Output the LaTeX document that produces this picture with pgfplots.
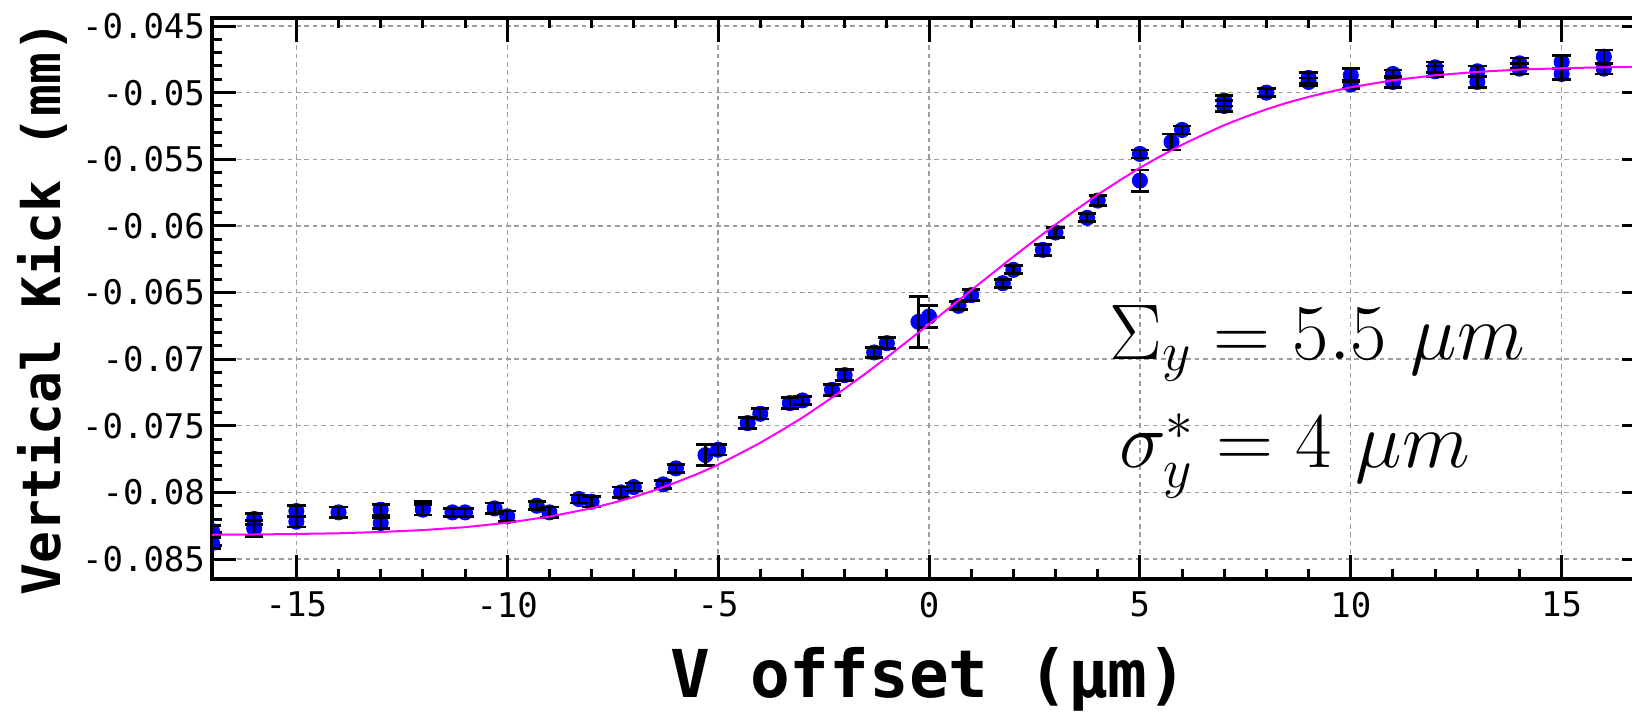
\RequirePackage{fix-cm}
\documentclass[border=0pt]{standalone}
\usepackage{fontspec}
\usepackage{pgfplots}
\usepackage{pgfplotstable}
\pgfplotsset{compat=1.18}
\newfontfamily\monofont{DejaVu Sans Mono}
\definecolor{fitmag}{RGB}{255,0,255}
\definecolor{ptblue}{RGB}{0,0,255}

\pgfplotstableread{
x y e
-17 -0.0829 0.0004
-17 -0.0838 0.0004
-16 -0.0820 0.0004
-16 -0.0827 0.0006
-15 -0.0814 0.0004
-15 -0.0822 0.0004
-14 -0.0815 0.0004
-13 -0.0813 0.0004
-13 -0.0823 0.0004
-12 -0.0812 0.0005
-12 -0.0813 0.0004
-11.3 -0.0815 0.0003
-11 -0.0815 0.0003
-10.3 -0.0812 0.0004
-10 -0.0818 0.0004
-9.3 -0.0810 0.0003
-9 -0.0815 0.0004
-8.3 -0.0805 0.0003
-8 -0.0807 0.0004
-7.3 -0.0800 0.0004
-7 -0.0796 0.0003
-6.3 -0.0794 0.0003
-6 -0.0782 0.0003
-5.3 -0.0772 0.0008
-5 -0.0768 0.0004
-4.3 -0.0748 0.0004
-4 -0.0741 0.0004
-3.3 -0.0733 0.0004
-3 -0.0731 0.0003
-2.3 -0.0723 0.0004
-2 -0.0712 0.0004
-1.3 -0.0695 0.0004
-1 -0.0688 0.0004
-0.25 -0.0672 0.0019
0 -0.0668 0.0008
0.7 -0.0660 0.0003
1 -0.0652 0.0004
1.75 -0.0643 0.0003
2 -0.0633 0.0003
2.7 -0.0618 0.0004
3 -0.0605 0.0004
3.75 -0.0594 0.0003
4 -0.0581 0.0004
5 -0.0546 0.0003
5 -0.0566 0.0008
5.75 -0.0537 0.0006
6 -0.0528 0.0003
7 -0.0506 0.0004
7 -0.0510 0.0004
8 -0.0500 0.0003
9 -0.0489 0.0004
9 -0.0492 0.0003
10 -0.0487 0.0005
10 -0.0494 0.0003
11 -0.0486 0.0003
11 -0.0492 0.0004
12 -0.0481 0.0004
12 -0.0484 0.0004
13 -0.0484 0.0004
13 -0.0492 0.0004
14 -0.0478 0.0004
14 -0.0482 0.0004
15 -0.0477 0.0005
15 -0.0486 0.0004
16 -0.0473 0.0005
16 -0.0482 0.0004
}\datatab

\pgfplotstableread{
x y
-17 -0.08318
-16 -0.08316
-15 -0.08312
-14 -0.08307
-13 -0.08297
-12 -0.08283
-11 -0.08261
-10 -0.08228
-9 -0.08182
-8 -0.08119
-7.5 -0.08079
-7 -0.08035
-6.5 -0.07983
-6 -0.07925
-5.5 -0.07863
-5 -0.07792
-4.5 -0.07711
-4 -0.07628
-3.5 -0.07535
-3 -0.07439
-2.5 -0.07332
-2 -0.07222
-1.5 -0.07107
-1 -0.06987
-0.5 -0.06863
0 -0.06738
0.5 -0.06611
1 -0.06483
1.5 -0.06357
2 -0.06231
2.5 -0.06109
3 -0.05990
3.5 -0.05876
4 -0.05766
4.5 -0.05663
5 -0.05564
5.5 -0.05475
6 -0.05391
6.5 -0.05316
7 -0.05244
7.5 -0.05182
8 -0.05125
8.5 -0.05075
9 -0.05032
9.5 -0.04994
10 -0.04960
11 -0.04907
12 -0.04870
13 -0.04844
14 -0.04827
15 -0.04817
16 -0.04810
17 -0.04806
}\curvetab

\begin{document}
\begin{tikzpicture}
\begin{axis}[
  width=717pt, height=280.5pt, scale only axis,
  xmin=-17, xmax=17, ymin=-0.0865, ymax=-0.0444,
  scaled y ticks=false, scaled x ticks=false,
  xtick={-15,-10,-5,0,5,10,15},
  xticklabels={-15,-10,-5,0,5,10,15},
  ytick={-0.085,-0.08,-0.075,-0.07,-0.065,-0.06,-0.055,-0.05,-0.045},
  yticklabels={-0.085,-0.08,-0.075,-0.07,-0.065,-0.06,-0.055,-0.05,-0.045},
  minor x tick num=4, minor y tick num=4,
  grid=major,
  major grid style={draw=black!38, dash pattern=on 2.3pt off 1.9pt, line width=0.7pt},
  axis line style={line width=2.2pt},
  major tick length=12pt, minor tick length=5pt,
  tick style={black, line width=1.5pt},
  tick align=inside,
  clip marker paths=true,
  ticklabel style={font=\monofont\fontsize{17}{20}\selectfont},
  xticklabel style={yshift=-3pt},
  xlabel={V offset (µm)},
  ylabel={Vertical Kick (mm)},
  xlabel style={font=\monofont\bfseries\fontsize{33}{38}\selectfont, at={(axis description cs:0.5,-0.2121)}, anchor=base},
  ylabel style={font=\monofont\bfseries\fontsize{26.5}{30}\selectfont, at={(axis description cs:-0.1053,0.483)}, anchor=base, rotate=0},
]
\addplot[only marks, mark=*, mark size=3.8pt, ptblue, mark options={draw=ptblue, fill=ptblue}]
  table[x=x, y=y]{\datatab};
\addplot[draw=none, mark=none, forget plot,
  error bars/.cd, y dir=both, y explicit,
  error bar style={draw=black, line width=1.2pt, solid},
  error mark options={rotate=90, mark size=4.6pt, line width=1.4pt, draw=black, solid}]
  table[x=x, y=y, y error=e]{\datatab};
\addplot[fitmag, line width=1pt] table[x=x, y=y]{\curvetab};
\node[anchor=base west, inner sep=0pt, font=\fontsize{39.5}{46}\selectfont] at (axis cs:4.28,-0.0700) {$\Sigma_y = 5.5\ \mu m$};
\node[anchor=base west, inner sep=0pt, font=\fontsize{39.5}{46}\selectfont] at (axis cs:4.5,-0.07815) {$\sigma_y^* = 4\ \mu m$};
\coordinate (SW) at (rel axis cs:0,0);
\coordinate (NE) at (rel axis cs:1,1);
\end{axis}
\pgfresetboundingbox
\path[use as bounding box] ([shift={(-106pt,-66.5pt)}]SW) rectangle ([shift={(-7pt,9pt)}]NE);
\end{tikzpicture}
\end{document}
